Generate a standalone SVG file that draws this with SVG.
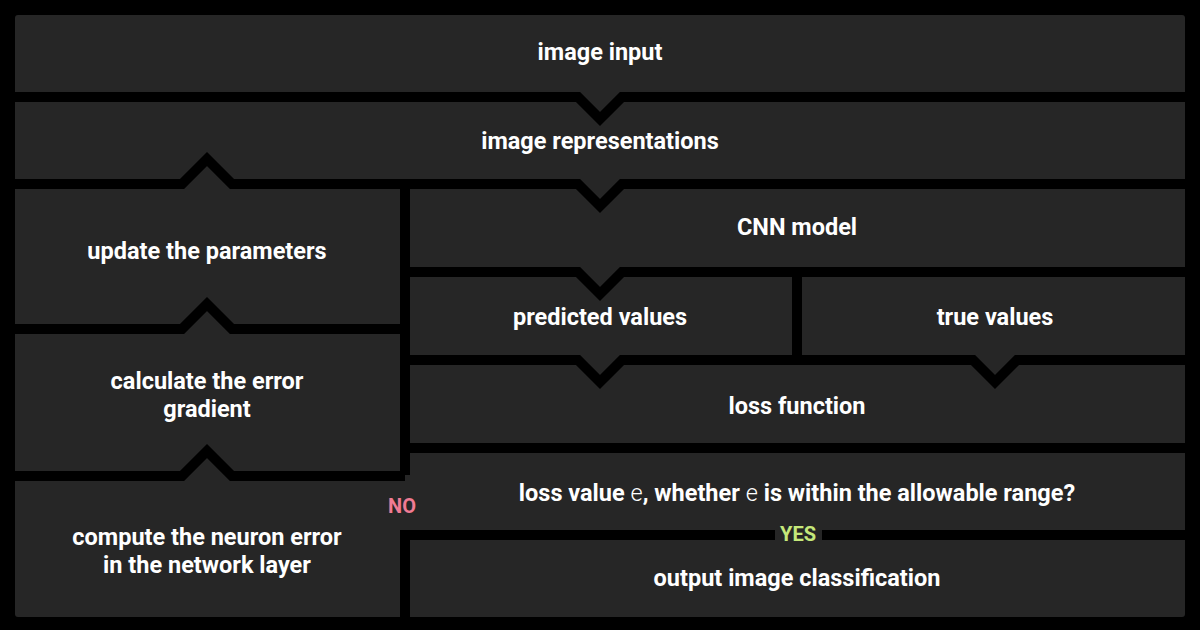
<svg xmlns="http://www.w3.org/2000/svg" width="1200" height="630" viewBox="0 0 1200 630">
<style>
.t{font-family:Roboto,"Liberation Sans",sans-serif;font-weight:700;font-size:23.5px;fill:#fff;text-anchor:middle}
.l{font-weight:300}
.s{fill:none;stroke:#000;stroke-width:10;stroke-linejoin:miter}
</style>
<rect width="1200" height="630" fill="#000"/>
<rect x="15" y="15" width="1170" height="602" rx="3" fill="#262626"/>
<g id="connectors">
<path class="s" d="M15 97 H578 L600 119 L622 97 H1185"/>
<path class="s" d="M15 184 H182 L207 159 L232 184 H578 L600 206 L622 184 H1185"/>
<path class="s" d="M405 184 V475"/>
<path class="s" d="M405 530 V617"/>
<path class="s" d="M15 329 H182 L207 304 L232 329 H405"/>
<path class="s" d="M15 476 H182 L207 451 L232 476 H405"/>
<path class="s" d="M405 272 H578 L600 294 L622 272 H1185"/>
<path class="s" d="M797 272 V360"/>
<path class="s" d="M405 360 H578 L600 382 L622 360 H973 L995 382 L1017 360 H1185"/>
<path class="s" d="M405 448 H1185"/>
<path class="s" d="M400 535 H775 M822 535 H1185"/>
</g>
<g id="n1"><text class="t" x="600" y="60">image input</text></g>
<g id="n2"><text class="t" x="600" y="149">image representations</text></g>
<g id="n3"><text class="t" x="797" y="235">CNN model</text></g>
<g id="n4"><text class="t" x="207" y="259">update the parameters</text></g>
<g id="n5"><text class="t" x="600" y="325">predicted values</text></g>
<g id="n6"><text class="t" x="995" y="325">true values</text></g>
<g id="n7"><text class="t" x="207" y="389">calculate the error</text><text class="t" x="207" y="417">gradient</text></g>
<g id="n8"><text class="t" x="797" y="414">loss function</text></g>
<g id="n9"><text class="t" x="797" y="501">loss value <tspan class="l">e</tspan>, whether <tspan class="l">e</tspan> is within the allowable range?</text></g>
<g id="n10"><text class="t" x="207" y="545">compute the neuron error</text><text class="t" x="207" y="573">in the network layer</text></g>
<g id="n11"><text class="t" x="797" y="586">output image classification</text></g>
<text class="t" x="402" y="513" style="fill:#f07b93;font-size:20px">NO</text>
<text class="t" x="798" y="541" style="fill:#c5e87a;font-size:20px">YES</text>
</svg>
